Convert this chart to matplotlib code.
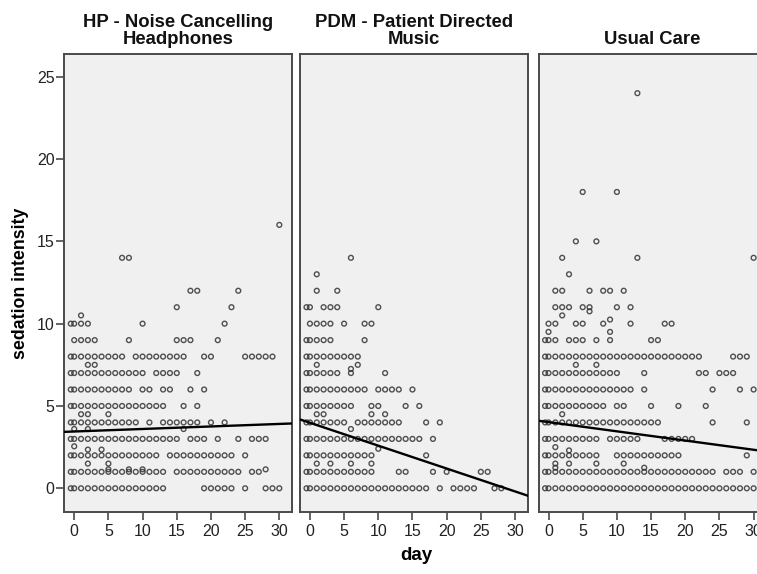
import numpy as np
import matplotlib
matplotlib.use("Agg")
import matplotlib.pyplot as plt

# panel titles
titles = ["HP - Noise Cancelling\nHeadphones",
          "PDM - Patient Directed\nMusic",
          "Usual Care"]

def r(a, b):
    return list(range(a, b + 1))

# (sedation value, days) rows, one list per group
hp_rows = [
    (0, r(0, 13) + r(19, 23) + [25, 28, 29, 30]),
    (1, r(0, 13) + r(15, 24) + [26, 27]),
    (1.15, [5, 8, 10, 28]),
    (1.5, [2, 5]),
    (2, r(0, 12) + r(14, 23) + [25]),
    (2.35, [2, 4]),
    (2.55, [0]),
    (3, r(0, 15) + r(17, 19) + [21, 24, 26, 27, 28]),
    (3.6, [0, 2, 16]),
    (4, r(0, 9) + [11] + r(13, 18) + [20, 22]),
    (4.5, [1, 2, 5]),
    (5, r(0, 13) + [16, 18]),
    (6, r(0, 8) + [10, 11, 13, 14, 17, 19]),
    (7, r(0, 10) + r(12, 15) + [18]),
    (7.5, [2, 3]),
    (8, r(0, 7) + r(9, 16) + [19, 20] + r(25, 29)),
    (9, r(0, 3) + [8, 15, 16, 17, 21]),
    (10, [0, 1, 2, 10, 22]),
    (10.5, [1]),
    (11, [15, 23]),
    (12, [17, 18, 24]),
    (14, [7, 8]),
    (16, [30]),
]
hp_double = [0, 1, 2, 3, 4, 5, 6, 7, 8, 10]

pdm_rows = [
    (0, r(0, 17) + [19] + r(21, 24) + [27, 28]),
    (1, r(0, 9) + [13, 14, 18, 20, 25, 26]),
    (1.5, [1, 3, 6, 9]),
    (2, r(0, 9) + [17]),
    (2.4, [10]),
    (3, r(0, 16) + [18]),
    (3.6, [6]),
    (4, r(0, 5) + r(7, 13) + [17, 19]),
    (4.5, [1, 2, 9, 11]),
    (5, r(0, 6) + [9, 10, 14, 16]),
    (6, r(0, 8) + r(10, 13) + [15]),
    (7, r(0, 4) + [6, 11]),
    (7.25, [6]),
    (7.5, [1, 7]),
    (8, r(0, 7)),
    (9, r(0, 3) + [8]),
    (10, r(0, 3) + [5, 8, 9]),
    (11, [0, 2, 3, 4, 10]),
    (12, [1, 4]),
    (13, [1]),
    (14, [6]),
]
pdm_double = [0, 1, 2, 3, 4, 5, 6, 7, 8, 9, 11]

uc_rows = [
    (0, r(0, 30)),
    (1, r(0, 24) + [26, 27, 28, 30]),
    (1.25, [1, 14]),
    (1.5, [1, 3, 7, 11]),
    (2, r(0, 7) + r(10, 19) + [29]),
    (2.3, [3]),
    (2.5, [1]),
    (3, r(0, 7) + r(9, 13) + r(17, 21)),
    (4, r(0, 16) + [24, 29]),
    (4.5, [2]),
    (5, r(0, 8) + [10, 11, 15, 19, 23]),
    (6, r(0, 12) + [14, 24, 28, 30]),
    (7, r(0, 10) + [14, 22, 23, 25, 26, 27]),
    (7.5, [4, 7]),
    (8, r(0, 22) + [27, 28, 29]),
    (9, [0, 1, 3, 4, 5, 7, 9, 15, 16]),
    (9.5, [0, 9]),
    (10, [0, 1, 4, 5, 8, 12, 17, 18]),
    (10.25, [9]),
    (10.5, [2]),
    (10.75, [6]),
    (11, [1, 2, 3, 5, 6, 10, 12]),
    (12, [1, 2, 6, 8, 9, 11]),
    (13, [3]),
    (14, [2, 13, 30]),
    (15, [4, 7]),
    (18, [5, 10]),
    (24, [13]),
]
uc_double = [0, 1, 2, 3, 4, 5, 6, 7, 8, 9]

# fit lines (intercept, slope)
fit_lines = [(3.45, 0.0153), (3.98, -0.139), (4.02, -0.056)]

groups = [(hp_rows, hp_double), (pdm_rows, pdm_double), (uc_rows, uc_double)]

plt.rcParams["font.family"] = ["Liberation Sans", "DejaVu Sans"]

fig = plt.figure(figsize=(7.57, 5.74), dpi=100)
fig.patch.set_facecolor("white")

lefts = [64.3 / 757, 300.0 / 757, 538.6 / 757]
width = 228.0 / 757
bottom = 1 - 512 / 574
height = (512 - 54) / 574

xlim = (-1.45, 31.9)
ylim = (-1.44, 26.38)
edge = "#4a4a4a"

for i, ((rows, dbl), title, (b0, b1)) in enumerate(zip(groups, titles, fit_lines)):
    ax = fig.add_axes([lefts[i], bottom, width, height])
    ax.set_facecolor("#f0f0f0")
    xs, ys = [], []
    for v, days in rows:
        xs += days
        ys += [v] * len(days)
        if v in dbl:
            xs.append(-0.5)
            ys.append(v)
    ax.scatter(xs, ys, s=12, facecolors="none", edgecolors="#333333",
               linewidths=1.0, alpha=0.85, zorder=3)
    xx = np.array(xlim)
    ax.plot(xx, b0 + b1 * xx, color="black", lw=1.7, zorder=4)
    ax.set_xlim(*xlim)
    ax.set_ylim(*ylim)
    ax.set_xticks(range(0, 31, 5))
    ax.tick_params(axis="x", direction="out", length=6, width=1.2,
                   color=edge, labelsize=11.5, pad=3, labelcolor="#222222")
    if i == 0:
        ax.set_yticks(range(0, 26, 5))
        ax.tick_params(axis="y", direction="out", length=6, width=1.2,
                       color=edge, labelsize=11.5, pad=1, labelcolor="#222222")
    else:
        ax.set_yticks([])
    for sp in ax.spines.values():
        sp.set_color(edge)
        sp.set_linewidth(1.4)
    ax.set_title(title, fontsize=13.3, fontweight="bold", pad=7,
                 linespacing=1.0, color="#111111")

fig.text(21 / 757, 1 - 283 / 574, "sedation intensity", rotation=90,
         ha="center", va="center", fontsize=12.8, fontweight="bold")
fig.text(416 / 757, 1 - 555 / 574, "day", ha="center", va="center",
         fontsize=13.5, fontweight="bold")

fig.savefig("out.png", dpi=100)
